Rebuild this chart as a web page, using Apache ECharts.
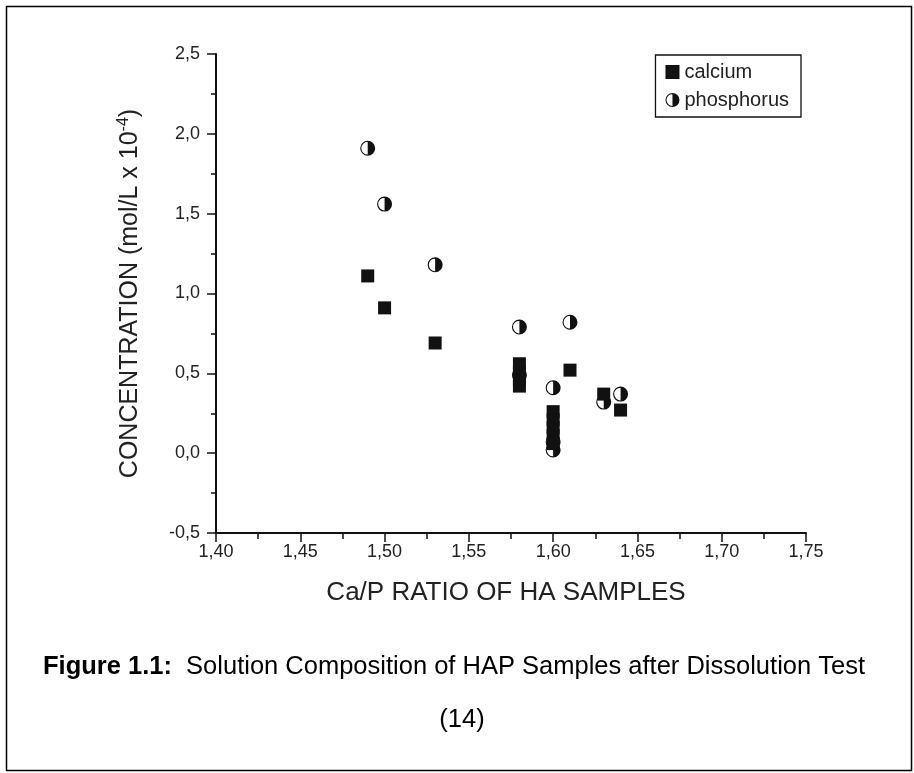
<!DOCTYPE html>
<html>
<head>
<meta charset="utf-8">
<script src="https://cdn.jsdelivr.net/npm/echarts@6/dist/echarts.min.js"></script>
<style>
html,body{margin:0;padding:0;background:#fff;}
#chart{width:914px;height:773px;}
</style>
</head>
<body>
<div id="chart"></div>
<script>
// ---- data ----
const calciumX = [1.49, 1.50, 1.53, 1.58, 1.58, 1.58, 1.58, 1.60, 1.60, 1.60, 1.60, 1.60, 1.61, 1.63, 1.64];
const calciumY = [1.11, 0.91, 0.69, 0.56, 0.51, 0.46, 0.42, 0.26, 0.21, 0.16, 0.11, 0.06, 0.52, 0.37, 0.27];
const phosphorusX = [1.49, 1.50, 1.53, 1.58, 1.58, 1.60, 1.60, 1.60, 1.61, 1.63, 1.64];
const phosphorusY = [1.91, 1.56, 1.18, 0.79, 0.49, 0.41, 0.07, 0.02, 0.82, 0.32, 0.37];
const seriesNames = ['calcium', 'phosphorus'];
const xTitle = 'Ca/P RATIO OF HA SAMPLES';
const yTitle = 'CONCENTRATION (mol/L x 10';
const yTitleExp = '-4';
const captionBold = 'Figure 1.1:';
const captionText = '  Solution Composition of HAP Samples after Dissolution Test';
const sourceText = '(14)';

const halfCircle = 'path://M10,0A10,10,0,0,1,10,20ZM10,0A10,10,0,0,0,10,20L10,18.5A8.5,8.5,0,0,1,10,1.5Z';
const FONT = '"Liberation Sans", Arial, sans-serif';
const TXT = '#222';

const chart = echarts.init(document.getElementById('chart'), null, {renderer: 'canvas'});
const zip = (xs, ys) => xs.map((x, i) => [x, ys[i]]);

chart.setOption({
  backgroundColor: '#fff',
  animation: false,
  grid: {left: 216, right: 108, top: 54, bottom: 240, containLabel: false},
  legend: {
    right: 113, top: 55, orient: 'vertical',
    backgroundColor: '#fff', borderColor: '#111', borderWidth: 1.3,
    padding: [7, 12, 7, 10], itemGap: 8, itemWidth: 14, itemHeight: 14,
    textStyle: {fontFamily: FONT, fontSize: 20, color: TXT},
    data: [
      {name: seriesNames[0], icon: 'rect'},
      {name: seriesNames[1], icon: halfCircle}
    ]
  },
  xAxis: {
    type: 'value', min: 1.40, max: 1.75, interval: 0.05,
    name: xTitle, nameLocation: 'middle', nameGap: 47,
    nameTextStyle: {fontFamily: FONT, fontSize: 26, color: TXT, padding: [0, 10, 0, 0]},
    axisLine: {show: true, onZero: false, lineStyle: {color: '#111', width: 2}},
    axisTick: {show: true, inside: false, length: 9, lineStyle: {color: '#111', width: 1.5}},
    minorTick: {show: true, splitNumber: 2, length: 6, lineStyle: {color: '#111', width: 1.5}},
    splitLine: {show: false},
    axisLabel: {fontFamily: FONT, fontSize: 18, color: TXT, margin: 10,
      formatter: v => v.toFixed(2).replace('.', ',')}
  },
  yAxis: {
    type: 'value', min: -0.5, max: 2.5, interval: 0.5,
    name: '{t|' + yTitle + '}{s|' + yTitleExp + '}{t|)}',
    nameLocation: 'middle', nameGap: 72, nameRotate: 90,
    nameTextStyle: {
      rich: {
        t: {fontFamily: FONT, fontSize: 25, color: TXT},
        s: {fontFamily: FONT, fontSize: 16, color: TXT, verticalAlign: 'top', padding: [0, 0, 12, 0]}
      }
    },
    axisLine: {show: true, onZero: false, lineStyle: {color: '#111', width: 2}},
    axisTick: {show: true, inside: false, length: 9, lineStyle: {color: '#111', width: 1.5}},
    minorTick: {show: true, splitNumber: 2, length: 5, lineStyle: {color: '#111', width: 1.5}},
    splitLine: {show: false},
    axisLabel: {fontFamily: FONT, fontSize: 18, color: TXT, margin: 16,
      formatter: v => v.toFixed(1).replace('.', ',')}
  },
  series: [
    {
      name: seriesNames[0], type: 'scatter', symbol: 'rect', symbolSize: 13,
      itemStyle: {color: '#111', opacity: 1}, z: 2,
      data: zip(calciumX, calciumY)
    },
    {
      name: seriesNames[1], type: 'scatter', symbol: halfCircle, symbolSize: 15,
      itemStyle: {color: '#111', opacity: 1}, z: 3,
      data: zip(phosphorusX, phosphorusY)
    }
  ],
  graphic: [
    {type: 'rect', left: 4, top: 4, z: -10, silent: true,
      shape: {width: 905, height: 764},
      style: {fill: 'none', stroke: '#000', lineWidth: 1.5}},
    {type: 'text', x: 454, y: 667, silent: true,
      style: {
        text: '{b|' + captionBold + '}{r|' + captionText + '}',
        align: 'center', verticalAlign: 'middle',
        rich: {
          b: {fontFamily: FONT, fontSize: 25.5, fontWeight: 'bold', fill: '#000'},
          r: {fontFamily: FONT, fontSize: 25.5, fill: '#000'}
        }
      }},
    {type: 'text', x: 462, y: 720, silent: true,
      style: {text: sourceText, align: 'center', verticalAlign: 'middle',
        fontFamily: FONT, fontSize: 25.5, fill: '#000'}}
  ]
});
</script>
</body>
</html>
